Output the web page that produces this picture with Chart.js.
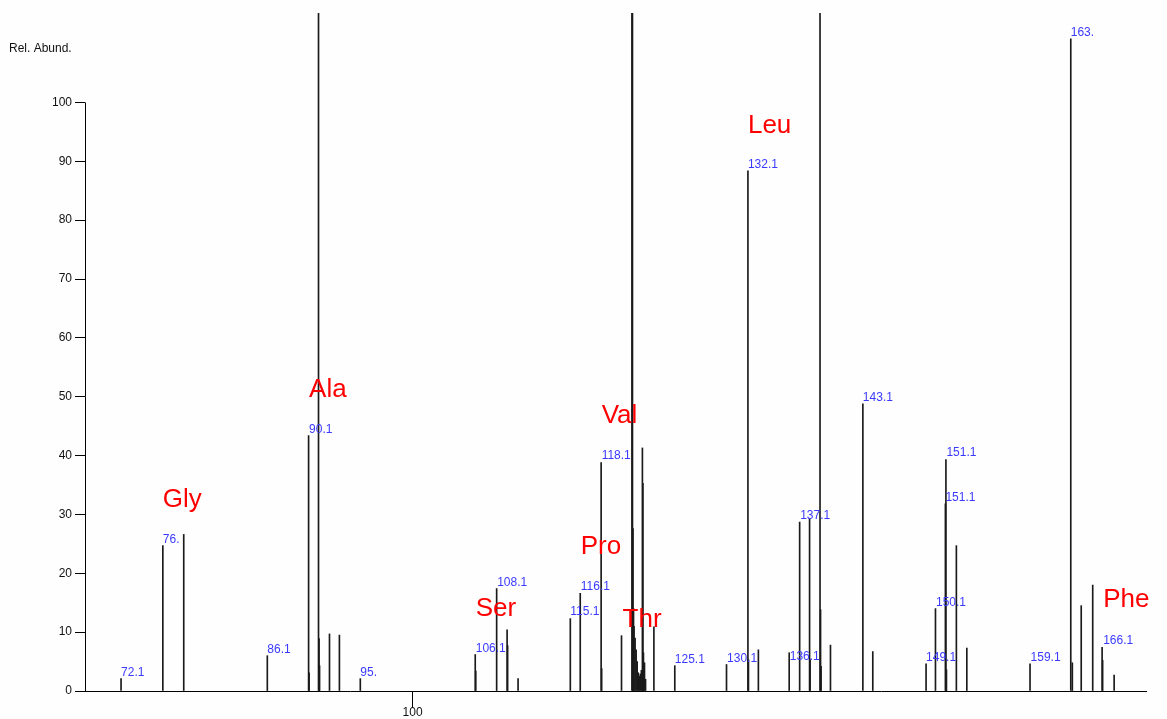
<!DOCTYPE html>
<html>
<head>
<meta charset="utf-8">
<script src="https://cdn.jsdelivr.net/npm/chart.js@4/dist/chart.umd.min.js"></script>
<style>
  body { margin: 0; background: #fefefe; }
  canvas { display: block; }
</style>
</head>
<body>
<canvas id="spectrum" width="1167" height="719"></canvas>
<script>
// peak list (m/z, relative abundance); > 115 are clipped at the top
const peakMz = [72.1, 76.1, 78.1, 86.1, 90.05, 90.1, 91.0, 91.05, 91.1, 92.05, 93.0, 95.0,
  106.0, 106.05, 108.05, 109.05, 109.1, 110.1, 115.1, 116.05, 118.05, 118.1, 120.0,
  121.0, 121.05, 121.1, 121.15, 121.2, 121.3, 121.4, 121.5, 121.6, 121.7, 121.8, 121.9,
  122.0, 122.05, 122.1, 122.2, 122.3, 123.1, 125.1, 130.05, 132.1, 132.15, 133.1,
  136.05, 137.05, 138.0, 138.05, 139.0, 139.05, 139.1, 140.0, 143.1, 144.05,
  149.15, 150.05, 151.0, 151.05, 151.1, 152.05, 153.05, 159.1, 163.0, 163.15,
  164.0, 165.1, 166.0, 166.05, 167.15];
const peakAbund = [2.1, 24.7, 26.6, 6.0, 43.4, 3.1, 130, 8.9, 4.3, 9.7, 9.5, 2.1,
  6.2, 3.4, 17.4, 10.4, 7.7, 2.1, 12.3, 16.6, 38.8, 3.8, 9.4,
  130, 130, 27.6, 14, 11, 9, 7, 5, 3.1, 2.5, 2.9, 3.5,
  41.3, 35.3, 6.5, 4.8, 2.0, 10.9, 4.3, 4.5, 88.4, 5.3, 7.0,
  6.5, 28.7, 29.3, 5.3, 130, 13.8, 4.2, 7.8, 48.8, 6.7,
  4.6, 14.0, 31.8, 39.3, 3.6, 24.7, 7.3, 4.6, 110.8, 4.8,
  14.5, 18.0, 7.4, 5.2, 2.7];

// blue m/z annotations: text, m/z, abundance of the text baseline
const mzText = ['72.1', '76.', '86.1', '90.1', '95.', '106.1', '108.1', '115.1', '116.1', '118.1',
  '125.1', '130.1', '132.1', '136.1', '137.1', '143.1', '149.1', '150.1', '151.1', '151.1',
  '159.1', '163.', '166.1'];
const mzTextAt = [72.1, 76.1, 86.1, 90.1, 95.0, 106.05, 108.1, 115.1, 116.1, 118.1,
  125.1, 130.1, 132.1, 136.1, 137.1, 143.1, 149.15, 150.1, 151.1, 151.0,
  159.15, 163.0, 166.1];
const mzTextAbund = [2.5, 25.2, 6.5, 43.8, 2.6, 6.7, 17.8, 12.9, 17.1, 39.5,
  4.8, 4.9, 88.8, 5.2, 29.2, 49.3, 5.1, 14.5, 39.9, 32.3,
  5.1, 111.3, 8.0];

// red amino acid names
const aaText = ['Gly', 'Ala', 'Ser', 'Pro', 'Val', 'Thr', 'Leu', 'Phe'];
const aaMz = [76.1, 90.1, 106.05, 116.1, 118.1, 120.1, 132.1, 166.1];
const aaAbund = [31.3, 50.0, 12.8, 23.2, 45.6, 10.8, 94.8, 14.2];

const yTicks = [0, 10, 20, 30, 40, 50, 60, 70, 80, 90, 100];
const xTicks = [100];

const labelPlugin = {
  id: 'labels',
  beforeDraw(chart) {
    const ctx = chart.ctx;
    ctx.save();
    ctx.fillStyle = '#fefefe';
    ctx.fillRect(0, 0, chart.width, chart.height);
    ctx.restore();
  },
  afterDraw(chart) {
    const ctx = chart.ctx;
    const xs = chart.scales.x, ys = chart.scales.y;
    ctx.save();
    // y axis line only from 0 to 100
    ctx.strokeStyle = '#000';
    ctx.lineWidth = 1;
    ctx.beginPath();
    const ax = Math.round(xs.left) + 0.5;
    ctx.moveTo(ax, ys.getPixelForValue(0));
    ctx.lineTo(ax, ys.getPixelForValue(100));
    ctx.stroke();

    ctx.textAlign = 'left';
    ctx.textBaseline = 'alphabetic';
    ctx.fillStyle = '#111';
    ctx.font = '12px "Liberation Sans", Arial, sans-serif';
    ctx.fillText('Rel. Abund.', 9, 52);

    ctx.fillStyle = '#3a3aff';
    for (let i = 0; i < mzText.length; i++) {
      ctx.fillText(mzText[i], xs.getPixelForValue(mzTextAt[i]), ys.getPixelForValue(mzTextAbund[i]));
    }
    ctx.fillStyle = '#ff0000';
    ctx.font = '26px "Liberation Sans", Arial, sans-serif';
    for (let i = 0; i < aaText.length; i++) {
      ctx.fillText(aaText[i], xs.getPixelForValue(aaMz[i]), ys.getPixelForValue(aaAbund[i]));
    }
    ctx.restore();
  }
};

new Chart(document.getElementById('spectrum').getContext('2d'), {
  type: 'bar',
  data: {
    datasets: [{
      data: peakMz.map((m, i) => ({ x: m, y: peakAbund[i] })),
      backgroundColor: '#1a1a1a',
      borderWidth: 0,
      barThickness: 1,
      grouped: false
    }]
  },
  options: {
    responsive: false,
    animation: false,
    layout: { padding: { top: 13, right: 21, left: 0, bottom: 0 } },
    plugins: { legend: { display: false }, tooltip: { enabled: false } },
    scales: {
      x: {
        type: 'linear',
        min: 68.65,
        max: 170.2,
        offset: false,
        afterBuildTicks: s => { s.ticks = xTicks.map(v => ({ value: v })); },
        afterFit: s => { s.height = 28; },
        grid: { offset: false, drawOnChartArea: false, tickLength: 17, color: '#000' },
        border: { display: true, color: '#000' },
        ticks: { padding: -3, color: '#111', font: { family: '"Liberation Sans", Arial', size: 12 } }
      },
      y: {
        min: 0,
        max: 115.2,
        afterBuildTicks: s => { s.ticks = yTicks.map(v => ({ value: v })); },
        afterFit: s => { s.width = 85; },
        grid: { drawOnChartArea: false, tickLength: 10, color: '#000' },
        border: { display: false },
        ticks: { padding: 3, color: '#111', font: { family: '"Liberation Sans", Arial', size: 12 } }
      }
    }
  },
  plugins: [labelPlugin]
});
</script>
</body>
</html>
